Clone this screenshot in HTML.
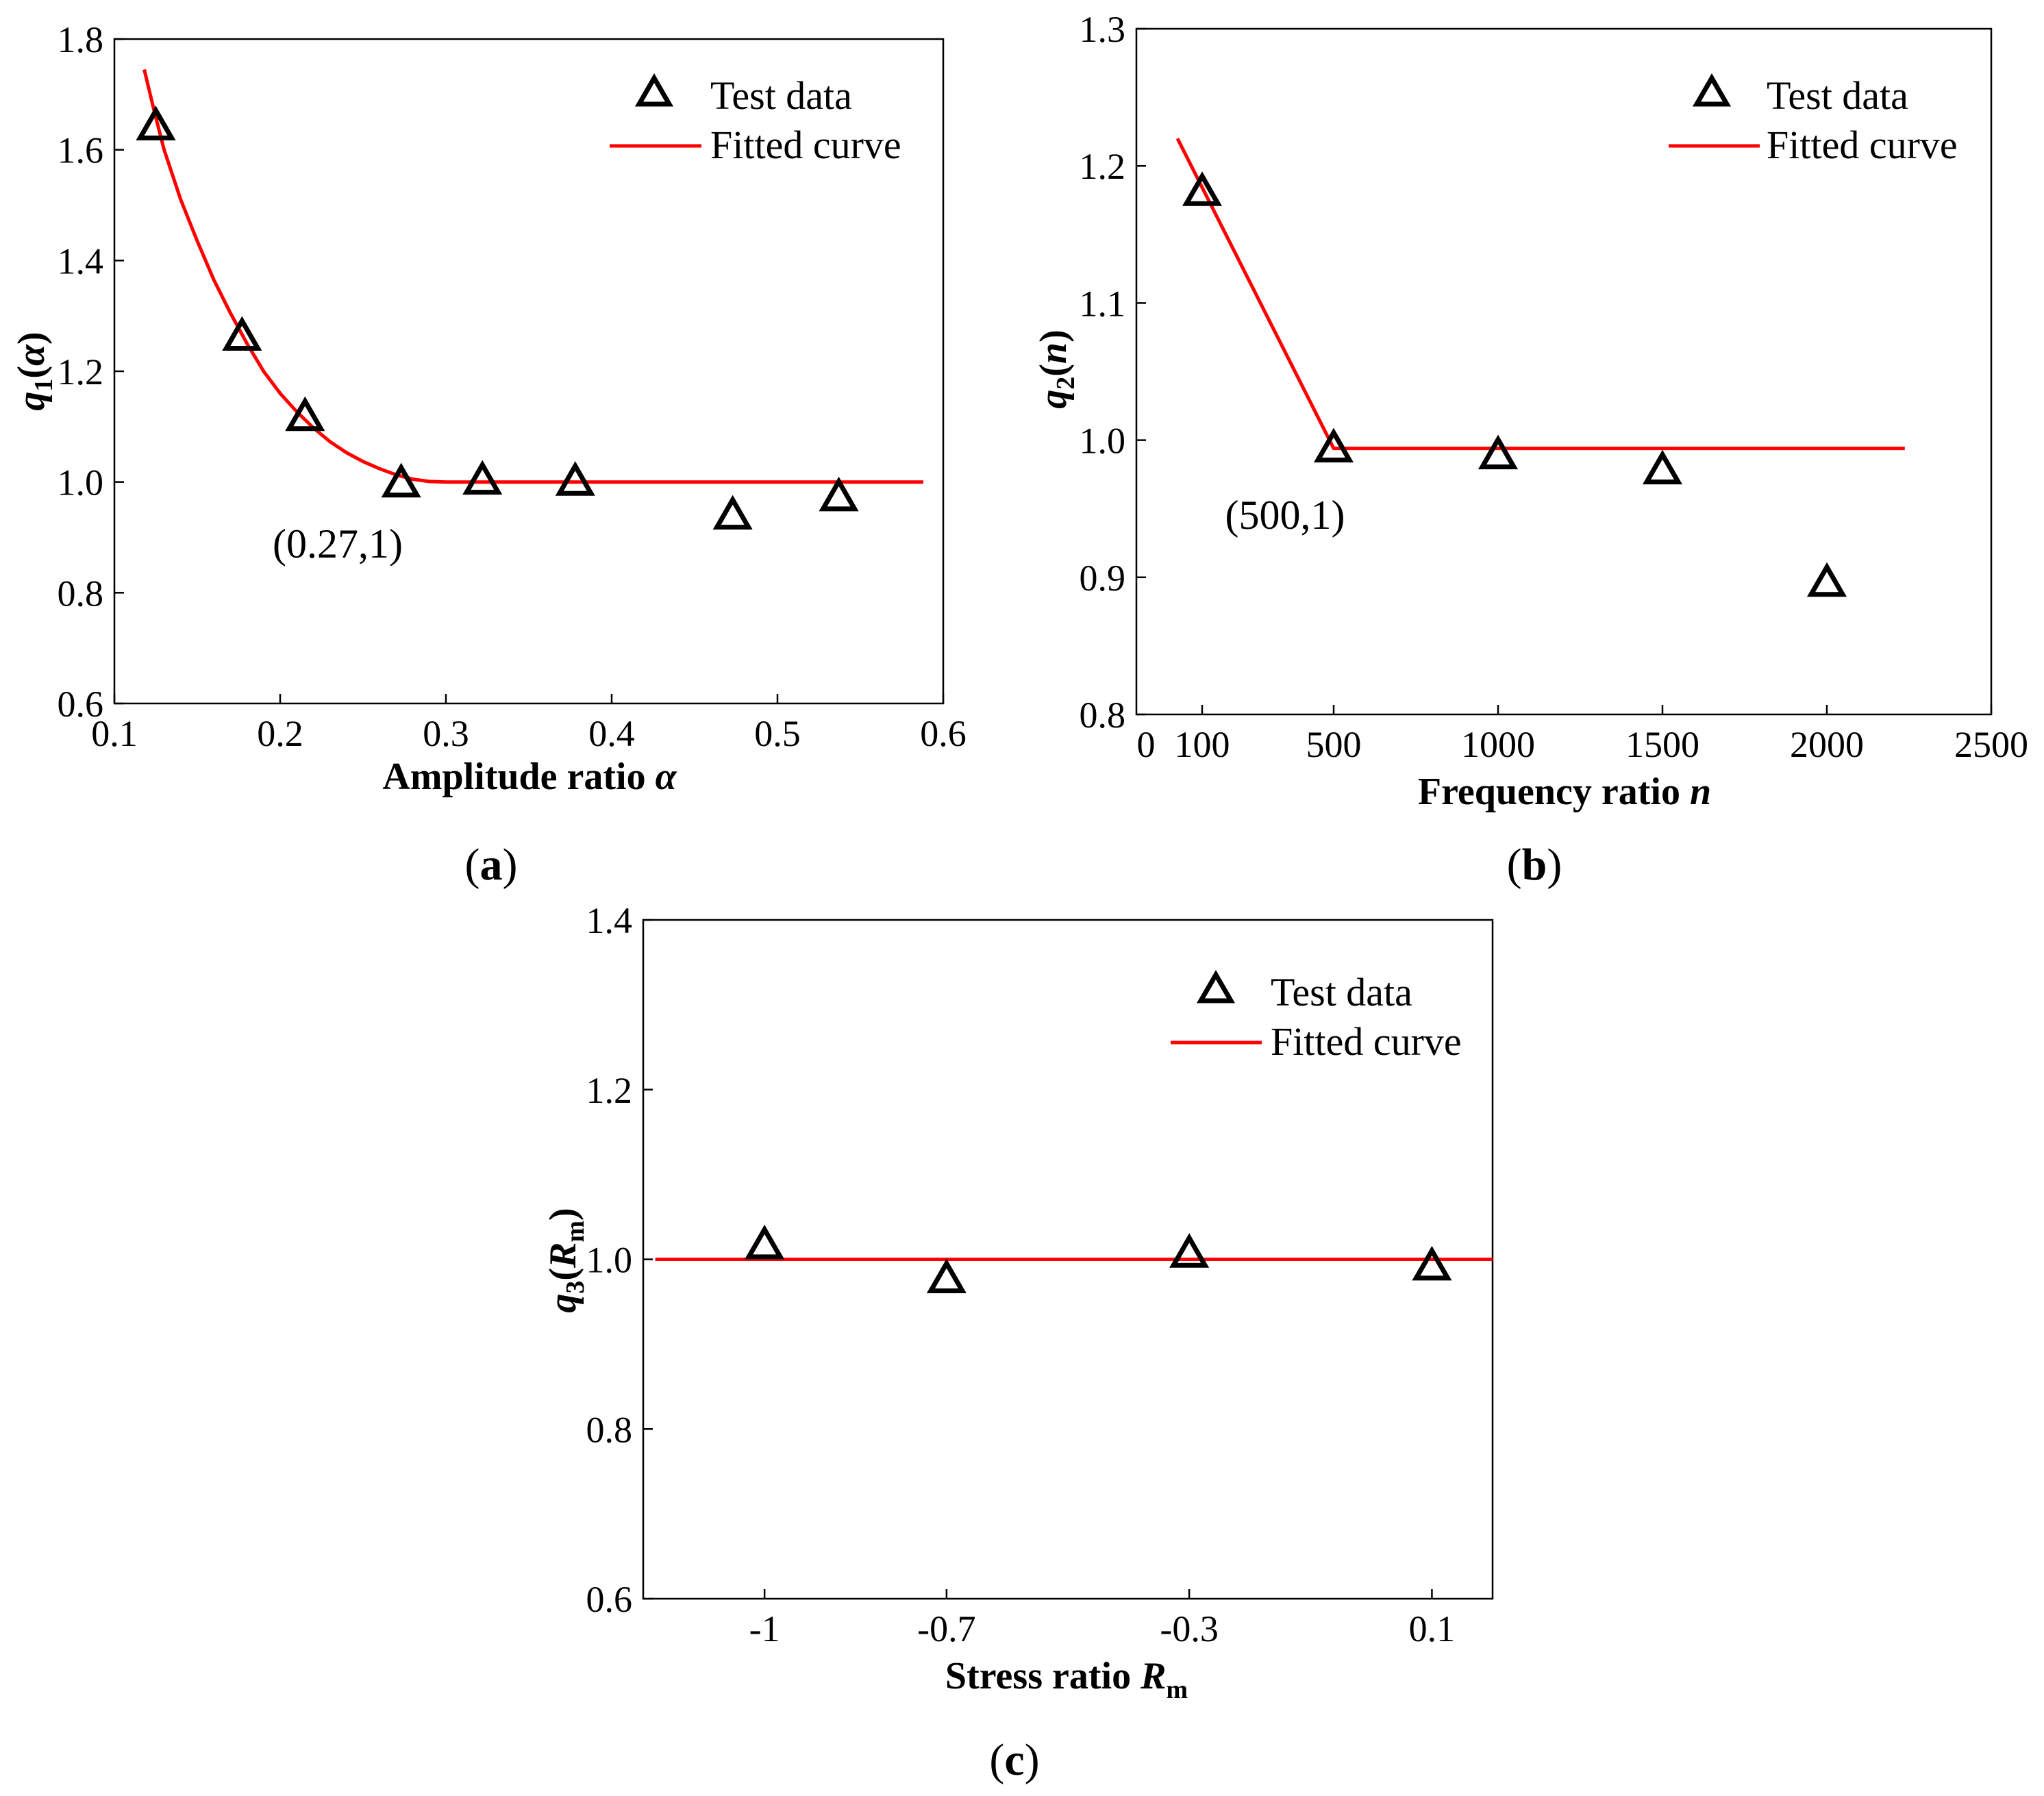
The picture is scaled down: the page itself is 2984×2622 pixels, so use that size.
<!DOCTYPE html>
<html><head><meta charset="utf-8"><style>
html,body{margin:0;padding:0;background:#fff}
svg{display:block}
svg text{font-family:"Liberation Serif","DejaVu Serif",serif;fill:#000}
</style></head><body>
<svg id="fig" width="2984" height="2622" viewBox="0 0 2984 2622" font-family="Liberation Serif, DejaVu Serif, serif" xmlns="http://www.w3.org/2000/svg"></svg>
<script>
// Panel (a) data
const aTicksX = [0.1,0.2,0.3,0.4,0.5,0.6];
const aTicksY = [0.6,0.8,1.0,1.2,1.4,1.6,1.8];
const aDataX = [0.125,0.177,0.215,0.273,0.322,0.378,0.473,0.537];
const aDataY = [1.64,1.26,1.115,0.995,1.0,0.998,0.937,0.97];
const aFitX = [0.118,0.124,0.13,0.14,0.15,0.16,0.17,0.18,0.19,0.2,0.21,0.22,0.23,0.24,0.25,0.26,0.27,0.28,0.29,0.3,0.588];
const aFitY = [1.745,1.67,1.6,1.51,1.435,1.365,1.305,1.25,1.2,1.16,1.127,1.098,1.073,1.053,1.037,1.024,1.013,1.005,1.001,1.0,1.0];
// Panel (b) data
const bTicksX = [100,500,1000,1500,2000,2500];
const bTicksY = [0.8,0.9,1.0,1.1,1.2,1.3];
const bDataX = [100,500,1000,1500,2000];
const bDataY = [1.18,0.993,0.988,0.977,0.895];
const bFitX = [25,500,2237];
const bFitY = [1.22,0.994,0.994];
// Panel (c) data
const cTicksX = [-1,-0.7,-0.3,0.1];
const cTickLabels = ["-1","-0.7","-0.3","0.1"];
const cTicksY = [0.6,0.8,1.0,1.2,1.4];
const cDataX = [-1,-0.7,-0.3,0.1];
const cDataY = [1.015,0.975,1.005,0.99];
const cFitX = [-1.18,0.2];
const cFitY = [1.0,1.0];

const NS="http://www.w3.org/2000/svg";
const svg=document.getElementById('fig');
function mk(tag,attrs,parent,txt){const e=document.createElementNS(NS,tag);for(const k in attrs)e.setAttribute(k,attrs[k]);if(txt!==undefined)e.textContent=txt;(parent||svg).appendChild(e);return e;}

function panel(p){
  const g=mk('g',{});
  
  
  const xs=v=>p.L+(v-p.x0)/(p.x1-p.x0)*(p.R-p.L);
  const ys=v=>p.B-(v-p.y0)/(p.y1-p.y0)*(p.B-p.T);
  const fr=mk('rect',{x:p.L,y:p.T,width:p.R-p.L,height:p.B-p.T,fill:'none',stroke:'#000','stroke-width':2.5},g);
  
  
  p.ty.forEach(v=>{
    const y=ys(v);
    mk('line',{x1:p.L,x2:p.L+14,y1:y,y2:y,stroke:'#000','stroke-width':2.5},g);
    const t=mk('text',{x:p.L-16,y:y+19,'font-size':54,'text-anchor':'end'},g,v.toFixed(1));
    
    
  });
  p.tx.forEach((v,i)=>{
    const x=xs(v);
    mk('line',{x1:x,x2:x,y1:p.B,y2:p.B-14,stroke:'#000','stroke-width':2.5},g);
    const t=mk('text',{x:x,y:p.B+62,'font-size':54,'text-anchor':'middle'},g,p.txl?p.txl[i]:p.txf(v));
    
    
  });
  const pts=p.fx.map((v,i)=>xs(v).toFixed(1)+','+ys(p.fy[i]).toFixed(1)).join(' ');
  const fl=mk('polyline',{points:pts,fill:'none',stroke:'#ff0000','stroke-width':5,'stroke-linejoin':'round'},g);
  
  
  p.dx.forEach((v,i)=>{
    const cx=xs(v),cy=ys(p.dy[i]);
    const tr=mk('polygon',{points:`${cx},${cy-25} ${cx-23},${cy+15} ${cx+23},${cy+15}`,fill:'none',stroke:'#000','stroke-width':7,'stroke-linejoin':'miter'},g);
    
    
  });
  const lg=mk('g',{},g);
  
  
  const [tx,ty]=p.leg;
  mk('polygon',{points:`${tx},${ty-23} ${tx-22},${ty+15} ${tx+22},${ty+15}`,fill:'none',stroke:'#000','stroke-width':7},lg);
  mk('text',{x:p.legText,y:ty+22,'font-size':58},lg,'Test data');
  mk('line',{x1:p.legLine[0],x2:p.legLine[1],y1:ty+76,y2:ty+76,stroke:'#ff0000','stroke-width':5},lg);
  mk('text',{x:p.legText,y:ty+94,'font-size':58},lg,'Fitted curve');
  return {g,xs,ys};
}

const A=panel({name:'panel-a',L:167,R:1377,T:57,B:1027,x0:0.1,x1:0.6,y0:0.6,y1:1.8,tx:aTicksX,ty:aTicksY,txf:v=>v.toFixed(1),dx:aDataX,dy:aDataY,fx:aFitX,fy:aFitY,leg:[955,137],legText:1037,legLine:[890,1024]});
const B=panel({name:'panel-b',L:1659,R:2907,T:42,B:1043,x0:-100,x1:2500,y0:0.8,y1:1.3,tx:bTicksX,ty:bTicksY,txf:v=>String(v),dx:bDataX,dy:bDataY,fx:bFitX,fy:bFitY,leg:[2499,137],legText:2579,legLine:[2436,2569]});
const C=panel({name:'panel-c',L:939,R:2179,T:1343,B:2334,x0:-1.2,x1:0.2,y0:0.6,y1:1.4,tx:cTicksX,txl:cTickLabels,ty:cTicksY,dx:cDataX,dy:cDataY,fx:cFitX,fy:cFitY,leg:[1775,1446],legText:1855,legLine:[1709,1842]});

let z=mk('text',{x:1673,y:1105,'font-size':54,'text-anchor':'middle'},B.g,'0');



function lbl(x,y,size,html,name,anchor,rot){
  const t=mk('text',{x:x,y:y,'font-size':size,'text-anchor':anchor||'middle'});
  if(rot)t.setAttribute('transform',`rotate(-90 ${x} ${y})`);
  t.innerHTML=html;
  
  
  return t;
}
lbl(493,814,60,'(0.27,1)','annotation-a');
lbl(1876,772,60,'(500,1)','annotation-b');
lbl(773,1152,56,'<tspan font-weight="bold">Amplitude ratio </tspan><tspan font-weight="bold" font-style="italic">α</tspan>','x-axis-title-a');
lbl(2284,1174,56,'<tspan font-weight="bold">Frequency ratio </tspan><tspan font-weight="bold" font-style="italic">n</tspan>','x-axis-title-b');
lbl(1557,2465,56,'<tspan font-weight="bold">Stress ratio </tspan><tspan font-weight="bold" font-style="italic">R</tspan><tspan font-weight="bold" font-size="38" dy="14">m</tspan>','x-axis-title-c');
lbl(64,542,56,'<tspan font-weight="bold" font-style="italic">q</tspan><tspan font-weight="bold" font-size="38" dy="12">1</tspan><tspan font-weight="bold" dy="-12">(</tspan><tspan font-weight="bold" font-style="italic">α</tspan><tspan font-weight="bold">)</tspan>','y-axis-title-a','middle',true);
lbl(1556,539,56,'<tspan font-weight="bold" font-style="italic">q</tspan><tspan font-weight="bold" font-size="38" dy="12">2</tspan><tspan font-weight="bold" dy="-12">(</tspan><tspan font-weight="bold" font-style="italic">n</tspan><tspan font-weight="bold">)</tspan>','y-axis-title-b','middle',true);
lbl(840,1840,56,'<tspan font-weight="bold" font-style="italic">q</tspan><tspan font-weight="bold" font-size="38" dy="12">3</tspan><tspan font-weight="bold" dy="-12">(</tspan><tspan font-weight="bold" font-style="italic">R</tspan><tspan font-weight="bold" font-size="38" dy="12">m</tspan><tspan font-weight="bold" dy="-12">)</tspan>','y-axis-title-c','middle',true);
lbl(717,1284,66,'(<tspan font-weight="bold">a</tspan>)','panel-label-a');
lbl(2240,1284,66,'(<tspan font-weight="bold">b</tspan>)','panel-label-b');
lbl(1481,2591,66,'(<tspan font-weight="bold">c</tspan>)','panel-label-c');
</script>
</body></html>
